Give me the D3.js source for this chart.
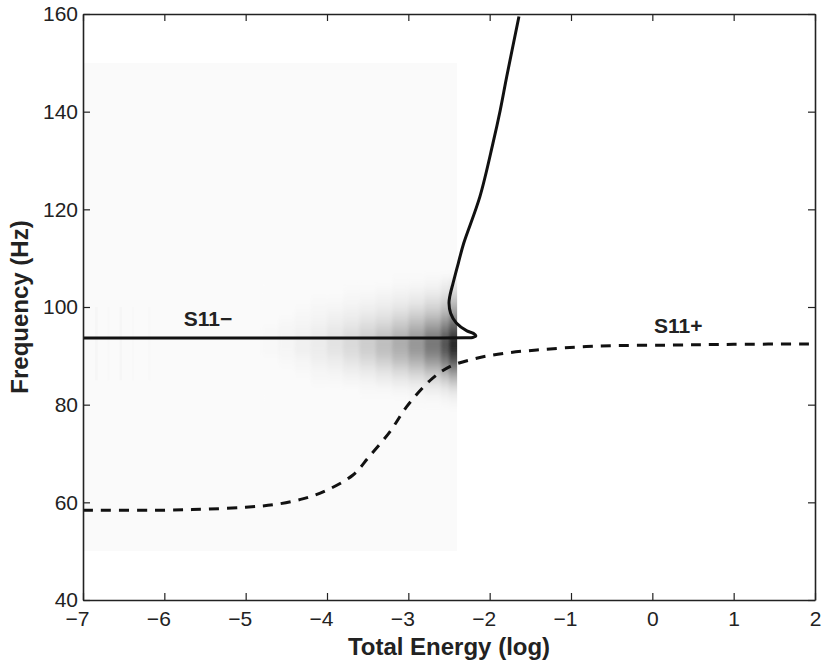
<!DOCTYPE html>
<html>
<head>
<meta charset="utf-8">
<script src="https://cdn.jsdelivr.net/npm/d3@7"></script>
<style>
  body { margin: 0; background: #fff; }
  svg { display: block; font-family: "Liberation Sans", Arial, Helvetica, sans-serif; }
</style>
</head>
<body>
<div id="chart"></div>
<script>
// axis ticks
const xTicks = [-7, -6, -5, -4, -3, -2, -1, 0, 1, 2];
const yTicks = [40, 60, 80, 100, 120, 140, 160];

// S11- branch (solid)
const solidX = [-7, -4, -2.6, -2.3, -2.21, -2.17, -2.2, -2.28, -2.41, -2.48, -2.5, -2.49, -2.45, -2.385, -2.32, -2.12, -1.96, -1.87, -1.79, -1.64];
const solidY = [93.65, 93.65, 93.65, 93.7, 93.75, 94.1, 94.6, 95.1, 96.7, 98.7, 100.8, 102.2, 104.9, 109.0, 113.0, 122.6, 133.5, 140.3, 147.2, 159.5];

// S11+ branch (dashed)
const dashX = [-7, -6, -5.5, -5, -4.66, -4.3, -4.0, -3.68, -3.49, -3.225, -3.02, -2.73, -2.49, -2.16, -1.83, -1.42, -0.68, 0.22, 1.0, 2];
const dashY = [58.4, 58.4, 58.6, 59.0, 59.5, 60.7, 62.5, 65.6, 69.2, 74.5, 79.6, 85.0, 87.8, 89.5, 90.5, 91.2, 92.0, 92.2, 92.35, 92.45];

// background density field extent
const fieldX = [-7, -2.4];
const fieldY = [50, 150];

// density map: column edges (log energy), row edges (Hz, top to bottom)
const heatEdgesX = [-4.8, -4.6, -4.4, -4.2, -4.0, -3.8, -3.6, -3.4, -3.2, -3.0, -2.8, -2.6, -2.5, -2.3];
const heatEdgesY = [106, 104, 102, 100, 98, 96, 94, 92, 90, 88, 86, 84, 82, 80];
// darkness per column, rows top to bottom
const heatLevels = [
  [0.00, 0.00, 0.00, 0.00, 0.00, 0.01, 0.01, 0.01, 0.00, 0.00, 0.00, 0.00, 0.00],
  [0.00, 0.00, 0.00, 0.00, 0.01, 0.02, 0.02, 0.02, 0.01, 0.00, 0.00, 0.00, 0.00],
  [0.00, 0.00, 0.00, 0.01, 0.02, 0.03, 0.04, 0.04, 0.02, 0.01, 0.00, 0.00, 0.00],
  [0.00, 0.00, 0.01, 0.02, 0.03, 0.05, 0.06, 0.06, 0.04, 0.02, 0.01, 0.00, 0.00],
  [0.00, 0.00, 0.01, 0.03, 0.05, 0.08, 0.10, 0.09, 0.06, 0.03, 0.01, 0.00, 0.00],
  [0.00, 0.01, 0.02, 0.04, 0.07, 0.11, 0.14, 0.13, 0.09, 0.05, 0.02, 0.00, 0.00],
  [0.00, 0.01, 0.03, 0.06, 0.10, 0.15, 0.19, 0.18, 0.13, 0.07, 0.03, 0.01, 0.00],
  [0.00, 0.02, 0.04, 0.08, 0.13, 0.20, 0.25, 0.24, 0.18, 0.10, 0.05, 0.01, 0.00],
  [0.01, 0.03, 0.06, 0.11, 0.18, 0.26, 0.33, 0.31, 0.24, 0.14, 0.07, 0.02, 0.00],
  [0.01, 0.04, 0.08, 0.15, 0.24, 0.34, 0.42, 0.40, 0.31, 0.19, 0.09, 0.03, 0.01],
  [0.02, 0.06, 0.12, 0.20, 0.32, 0.45, 0.55, 0.52, 0.41, 0.26, 0.13, 0.05, 0.01],
  [0.04, 0.09, 0.17, 0.28, 0.42, 0.58, 0.70, 0.67, 0.53, 0.35, 0.18, 0.07, 0.02],
  [0.06, 0.14, 0.25, 0.38, 0.55, 0.72, 0.88, 0.85, 0.68, 0.46, 0.25, 0.10, 0.03]
];

// faint streaks at low energy
const streakX = [-6.85, -6.7, -6.55, -6.4, -6.2];
const streakY = [85, 100];
const streakLevel = [0.015, 0.01, 0.015, 0.01, 0.01];

const width = 825, height = 661;
const margin = { top: 14, right: 10, bottom: 61, left: 83 };
const iw = width - margin.left - margin.right;
const ih = height - margin.top - margin.bottom;

const svg = d3.select('#chart').append('svg')
  .attr('width', width)
  .attr('height', height);

const g = svg.append('g').attr('transform', `translate(${margin.left},${margin.top})`);

const x = d3.scaleLinear().domain([-7, 2]).range([0, iw]);
const y = d3.scaleLinear().domain([40, 160]).range([ih, 0]);
const shade = d3.scaleLinear().domain([0, 1]).range(['#fafafa', '#0a0a0a']);

const defs = svg.append('defs');
defs.append('clipPath').attr('id', 'fieldClip')
  .append('rect')
  .attr('x', x(fieldX[0])).attr('y', y(fieldY[1]))
  .attr('width', x(fieldX[1]) - x(fieldX[0]))
  .attr('height', y(fieldY[0]) - y(fieldY[1]));
defs.append('filter').attr('id', 'soft')
  .attr('x', '-20%').attr('y', '-20%').attr('width', '140%').attr('height', '140%')
  .append('feGaussianBlur').attr('stdDeviation', '1.5 4');

const field = g.append('g').attr('clip-path', 'url(#fieldClip)');

field.append('rect')
  .attr('x', x(fieldX[0])).attr('y', y(fieldY[1]))
  .attr('width', x(fieldX[1]) - x(fieldX[0]))
  .attr('height', y(fieldY[0]) - y(fieldY[1]))
  .attr('fill', shade(0));

field.append('g').selectAll('rect')
  .data(streakX)
  .join('rect')
  .attr('x', d => x(d))
  .attr('y', y(streakY[1]))
  .attr('width', x(-6.97) - x(-7))
  .attr('height', y(streakY[0]) - y(streakY[1]))
  .attr('fill', (d, i) => shade(streakLevel[i]));

const cells = [];
heatLevels.forEach((col, i) => {
  col.forEach((v, j) => {
    cells.push({ x0: heatEdgesX[i], x1: heatEdgesX[i + 1], y0: heatEdgesY[j + 1], y1: heatEdgesY[j], v });
  });
});

field.append('g')
  .attr('filter', 'url(#soft)')
  .selectAll('rect')
  .data(cells)
  .join('rect')
  .attr('x', d => x(d.x0))
  .attr('y', d => y(d.y1))
  .attr('width', d => x(d.x1) - x(d.x0) + 0.5)
  .attr('height', d => y(d.y0) - y(d.y1) + 0.5)
  .attr('fill', d => shade(d.v));

// curves
const line = d3.line()
  .x(d => x(d[0]))
  .y(d => y(d[1]))
  .curve(d3.curveCatmullRom.alpha(0.5));

g.append('path')
  .datum(dashX.map((v, i) => [v, dashY[i]]))
  .attr('d', line)
  .attr('fill', 'none')
  .attr('stroke', '#111')
  .attr('stroke-width', 3)
  .attr('stroke-dasharray', '10,8');

g.append('path')
  .datum(solidX.map((v, i) => [v, solidY[i]]))
  .attr('d', line)
  .attr('fill', 'none')
  .attr('stroke', '#111')
  .attr('stroke-width', 3)
  .attr('stroke-linejoin', 'round');

// branch labels
g.append('text')
  .attr('x', x(-5.76)).attr('y', y(96.1))
  .style('font-size', '21px').style('font-weight', 'bold').attr('fill', '#222')
  .text('S11\u2212');
g.append('text')
  .attr('x', x(0.02)).attr('y', y(94.7))
  .style('font-size', '21px').style('font-weight', 'bold').attr('fill', '#222')
  .text('S11+');

// axes, MATLAB style box with inward ticks
const fmt = d3.format('d');
const axisStyle = sel => {
  sel.select('.domain').attr('stroke', '#222').attr('stroke-width', 1.6);
  sel.selectAll('.tick line').attr('stroke', '#222').attr('stroke-width', 1.2);
  sel.selectAll('.tick text').attr('fill', '#222').style('font-size', '21px');
};

g.append('g')
  .attr('transform', `translate(0,${ih})`)
  .call(d3.axisBottom(x).tickValues(xTicks).tickFormat(fmt).tickSizeInner(-7).tickSizeOuter(0).tickPadding(11))
  .call(axisStyle)
  .call(s => s.selectAll('.tick text').attr('dx', d => d < 0 ? -6 : 0));

g.append('g')
  .call(d3.axisTop(x).tickValues(xTicks).tickFormat('').tickSizeInner(-7).tickSizeOuter(0))
  .call(axisStyle);

g.append('g')
  .call(d3.axisLeft(y).tickValues(yTicks).tickFormat(fmt).tickSizeInner(-7).tickSizeOuter(0).tickPadding(5))
  .call(axisStyle);

g.append('g')
  .attr('transform', `translate(${iw},0)`)
  .call(d3.axisRight(y).tickValues(yTicks).tickFormat('').tickSizeInner(-7).tickSizeOuter(0))
  .call(axisStyle);

// axis titles
svg.append('text')
  .attr('x', margin.left + iw / 2)
  .attr('y', 655)
  .attr('text-anchor', 'middle')
  .style('font-size', '24px').style('font-weight', 'bold').attr('fill', '#222')
  .text('Total Energy (log)');

svg.append('text')
  .attr('transform', `translate(28,${margin.top + ih / 2}) rotate(-90)`)
  .attr('text-anchor', 'middle')
  .style('font-size', '24px').style('font-weight', 'bold').attr('fill', '#222')
  .text('Frequency (Hz)');
</script>
</body>
</html>
